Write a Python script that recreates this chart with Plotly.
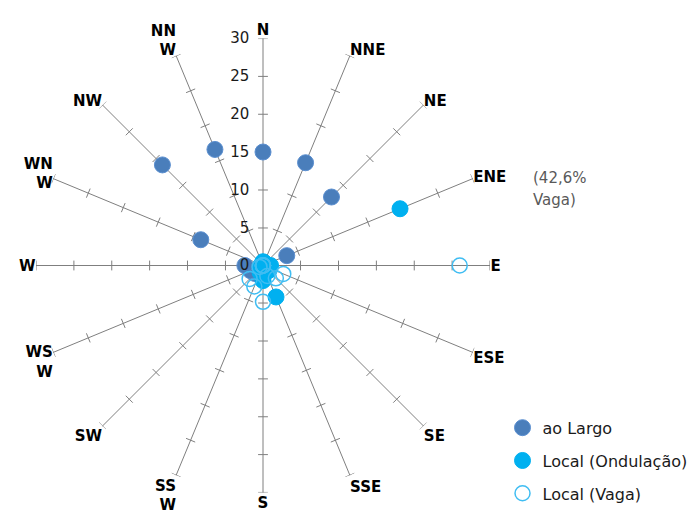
import math
import plotly.graph_objects as go

# ---- data ----
directions = ["N", "NNE", "NE", "ENE", "E", "ESE", "SE", "SSE",
              "S", "SSW", "SW", "WSW", "W", "WNW", "NW", "NNW"]
direction_labels = ["N", "NNE", "NE", "ENE", "E", "ESE", "SE", "SSE",
                    "S", "SS<br>W", "SW", "WS<br>W", "W", "WN<br>W", "NW", "NN<br>W"]
direction_angles = [0, 22.5, 45, 67.5, 90, 112.5, 135, 157.5,
                    180, 202.5, 225, 247.5, 270, 292.5, 315, 337.5]

ao_largo = [15.0, 14.7, 12.8, 3.4, 0.5, 0.3, 0.3, 0.3,
            0.5, 1.2, 1.5, 1.8, 2.4, 8.9, 18.8, 16.6]
local_ondulacao = [0.5, 0.4, 0.4, 19.6, 1.0, 1.0, 1.0, 4.5,
                   2.0, 1.0, 0.5, 0.3, 0.3, 0.2, 0.2, 0.3]
local_vaga = [0.0, 0.0, 0.0, 42.6, 26.0, 2.9, 2.4, 1.5,
              4.8, 3.0, 2.5, 0.5, 0.0, 0.0, 0.0, 0.0]

radial_ticks = [0, 5, 10, 15, 20, 25, 30]
radial_max = 30

series_names = ["ao Largo", "Local (Ondulação)", "Local (Vaga)"]
note_lines = ["(42,6%", "Vaga)"]

# ---- figure ----
FONT = "DejaVu Sans"
fig = go.Figure()

# cross tick marks on every spoke (half-length in radial units)
half = 0.65
tr, tt = [], []
for ang in direction_angles:
    for r in radial_ticks[1:]:
        d = math.degrees(math.atan(half / r))
        tr += [r, r, None]
        tt += [ang - d, ang + d, None]
fig.add_trace(go.Scatterpolar(r=tr, theta=tt, mode="lines",
                              line=dict(color="#7f7f7f", width=1),
                              showlegend=False, hoverinfo="skip"))

fig.add_trace(go.Scatterpolar(
    r=ao_largo, theta=direction_angles, mode="markers", name=series_names[0],
    marker=dict(size=16, color="#4a7ebb", line=dict(color="#5b8fd0", width=1)),
    legendgroup="a"))
fig.add_trace(go.Scatterpolar(
    r=local_ondulacao, theta=direction_angles, mode="markers", name=series_names[1],
    marker=dict(size=16, color="#00b0f0", line=dict(color="#00b0f0", width=1)),
    legendgroup="b"))
fig.add_trace(go.Scatterpolar(
    r=local_vaga, theta=direction_angles, mode="markers", name=series_names[2],
    marker=dict(size=15, symbol="circle-open", color="#40bdf2",
                line=dict(color="#40bdf2", width=1.5)),
    legendgroup="c", cliponaxis=True))

fig.update_layout(
    width=696, height=518,
    margin=dict(l=0, r=0, t=0, b=0),
    paper_bgcolor="white",
    font=dict(family=FONT, color="#000000"),
    polar=dict(
        domain=dict(x=[36 / 696, 490 / 696], y=[25.5 / 518, 479.5 / 518]),
        bgcolor="white",
        angularaxis=dict(
            rotation=90, direction="clockwise", thetaunit="degrees",
            tickmode="array", tickvals=direction_angles,
            ticktext=["<b>%s</b>" % t for t in direction_labels],
            tickfont=dict(family=FONT, size=15, color="#000000"),
            showgrid=True, gridcolor="#7f7f7f", gridwidth=1,
            showline=False, ticks=""),
        radialaxis=dict(
            range=[0, radial_max], tickmode="array", tickvals=radial_ticks,
            angle=90, side="counterclockwise", showgrid=False, showline=False,
            ticks="outside", ticklen=8, tickcolor="rgba(0,0,0,0)", tickangle=90,
            tickfont=dict(family=FONT, size=15, color="#1a1a1a")),
    ),
    legend=dict(x=0.722, y=0.207, xanchor="left", yanchor="top",
                font=dict(family=FONT, size=16, color="#1a1a1a"),
                tracegroupgap=9, traceorder="grouped",
                bgcolor="rgba(0,0,0,0)"),
)

fig.add_annotation(x=531 / 696, y=1 - 178 / 518, xref="paper", yref="paper",
                   text=note_lines[0], showarrow=False, xanchor="left",
                   font=dict(family=FONT, size=15, color="#595959"))
fig.add_annotation(x=531 / 696, y=1 - 200 / 518, xref="paper", yref="paper",
                   text=note_lines[1], showarrow=False, xanchor="left",
                   font=dict(family=FONT, size=15, color="#595959"))

fig.write_html("out.html")
